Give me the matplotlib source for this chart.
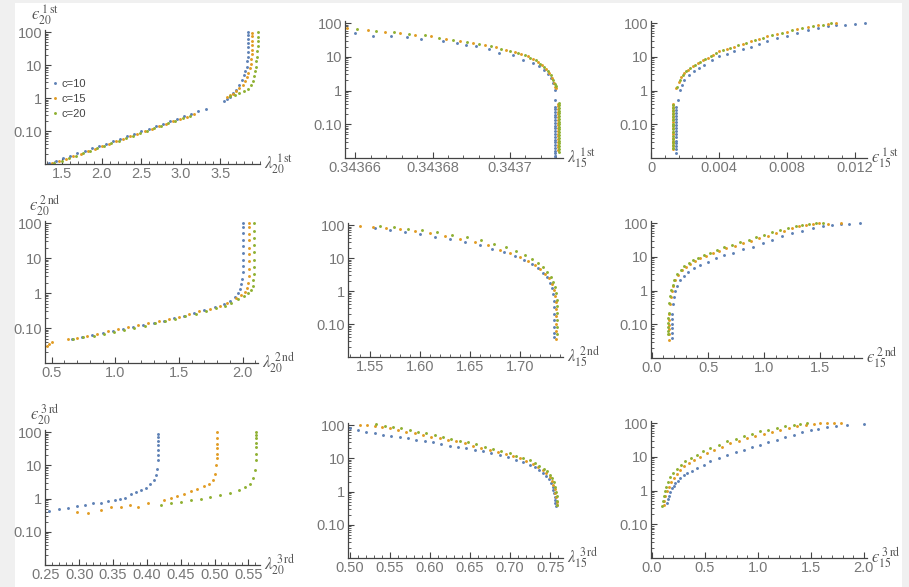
import numpy as np
import matplotlib
matplotlib.use("Agg")
import matplotlib.pyplot as plt
from matplotlib.ticker import FixedLocator, FixedFormatter, AutoMinorLocator, LogLocator, NullFormatter
from matplotlib.patches import Rectangle

plt.rcParams['mathtext.fontset'] = 'stix'
plt.rcParams['font.family'] = ['Liberation Sans', 'DejaVu Sans']

series_names = ["c=10", "c=15", "c=20"]
colors = ["#5E81B5", "#E19C24", "#8FB032"]

# ---------------- Panel A: lambda20 1st vs eps20 1st ----------------
A_c10_x = [1.33, 1.42, 1.51, 1.60, 1.69, 1.78, 1.87, 1.96, 2.05, 2.14, 2.23, 2.32, 2.41, 2.50, 2.59, 2.68, 2.77,
           2.86, 2.95, 3.04, 3.13, 3.22, 3.32, 3.54, 3.58, 3.62, 3.66, 3.70, 3.74, 3.77, 3.80, 3.81, 3.83, 3.84,
           3.845, 3.85, 3.85, 3.85, 3.852, 3.852, 3.852]
A_c10_y = [0.0105, 0.0124, 0.0148, 0.0176, 0.0209, 0.0248, 0.0295, 0.0351, 0.0417, 0.0496, 0.059, 0.070, 0.083,
           0.099, 0.118, 0.14, 0.166, 0.198, 0.235, 0.279, 0.332, 0.394, 0.48, 0.83, 0.95, 1.1, 1.4, 1.8, 2.5, 3.5,
           5.0, 6.5, 9.0, 13, 18, 25, 34, 46, 62, 82, 100]
A_c15_x = [1.37, 1.46, 1.55, 1.64, 1.73, 1.82, 1.91, 2.00, 2.09, 2.18, 2.27, 2.36, 2.45, 2.54, 2.63, 2.72, 2.81,
           2.90, 2.99, 3.08, 3.16, 3.58, 3.62, 3.66, 3.70, 3.74, 3.78, 3.81, 3.83, 3.85, 3.87, 3.88, 3.89, 3.895,
           3.90, 3.90, 3.90, 3.90, 3.90]
A_c15_y = [0.0104, 0.0123, 0.0146, 0.0174, 0.0207, 0.0246, 0.0292, 0.0347, 0.0413, 0.049, 0.058, 0.069, 0.082,
           0.098, 0.116, 0.138, 0.164, 0.195, 0.232, 0.275, 0.32, 1.07, 1.2, 1.35, 1.6, 1.95, 2.5, 3.2, 4.2, 5.8,
           8.0, 11, 15, 21, 29, 40, 55, 75, 95]
A_c20_x = [1.40, 1.49, 1.58, 1.67, 1.76, 1.85, 1.94, 2.03, 2.12, 2.21, 2.30, 2.39, 2.48, 2.57, 2.66, 2.75, 2.84,
           2.93, 3.02, 3.11, 3.62, 3.68, 3.74, 3.80, 3.85, 3.88, 3.91, 3.93, 3.94, 3.95, 3.955, 3.96, 3.965, 3.97,
           3.97, 3.97, 3.97]
A_c20_y = [0.0106, 0.0126, 0.015, 0.0178, 0.0212, 0.0252, 0.030, 0.0356, 0.0424, 0.050, 0.060, 0.071, 0.085,
           0.101, 0.12, 0.143, 0.17, 0.202, 0.24, 0.285, 1.12, 1.25, 1.4, 1.65, 1.9, 2.4, 3.2, 4.5, 6.5, 9.0, 13,
           18, 26, 37, 52, 72, 100]
A_xticks = [1.5, 2.0, 2.5, 3.0, 3.5]
A_xticklabels = ["1.5", "2.0", "2.5", "3.0", "3.5"]

# ---------------- Panel B: lambda15 1st vs eps ----------------
B_c10_x = [0.3436600, 0.3436647, 0.3436694, 0.3436733, 0.3436771, 0.3436827, 0.3436862, 0.3436887, 0.3436913,
           0.3436947, 0.3436973, 0.3437008, 0.3437033, 0.3437059, 0.3437076, 0.3437089, 0.3437098, 0.3437106,
           0.3437112, 0.3437116, 0.3437117, 0.3437117, 0.3437117, 0.3437117, 0.3437117, 0.3437117, 0.3437117,
           0.3437117, 0.3437117, 0.3437117, 0.3437117, 0.3437117, 0.3437117, 0.3437117, 0.3437117, 0.3437117,
           0.3437117, 0.3437117, 0.3437117, 0.3437117, 0.3437117]
B_c10_y = [50, 42, 42, 38, 33.5, 28.5, 25.5, 22.7, 20.3, 16.9, 12.9, 11.5, 8.1, 6.5, 5.2, 4.1, 3.1, 2.3, 1.65,
           1.05, 0.53, 0.33, 0.28, 0.23, 0.19, 0.16, 0.13, 0.11, 0.09, 0.075, 0.062, 0.051, 0.042, 0.035, 0.029,
           0.024, 0.020, 0.0165, 0.0137, 0.0113, 0.0100]
B_c15_x = [0.3436578, 0.3436634, 0.3436677, 0.3436716, 0.3436754, 0.3436797, 0.3436836, 0.3436870, 0.3436905,
           0.3436935, 0.3436965, 0.3436990, 0.3437012, 0.3437029, 0.3437046, 0.3437059, 0.3437072, 0.3437083,
           0.3437093, 0.3437102, 0.3437109, 0.3437113, 0.3437116, 0.3437120, 0.3437124, 0.3437124, 0.3437124,
           0.3437124, 0.3437124, 0.3437124, 0.3437124, 0.3437124, 0.3437124, 0.3437124, 0.3437124, 0.3437124,
           0.3437124, 0.3437124, 0.3437124, 0.3437124, 0.3437124, 0.3437124]
B_c15_y = [71, 63, 56, 50, 45, 42, 33.5, 28.5, 25.5, 21.7, 18.9, 16.1, 13.8, 12.0, 10.2, 8.5, 6.9, 5.65, 4.4,
           3.3, 2.3, 1.65, 1.3, 1.2, 0.40, 0.34, 0.28, 0.235, 0.195, 0.16, 0.135, 0.11, 0.092, 0.077, 0.064, 0.053,
           0.044, 0.036, 0.030, 0.025, 0.0205, 0.017]
B_c20_x = [0.3436606, 0.3436655, 0.3436700, 0.3436740, 0.3436780, 0.3436818, 0.3436852, 0.3436888, 0.3436920,
           0.3436950, 0.3436978, 0.3437001, 0.3437021, 0.3437038, 0.3437053, 0.3437066, 0.3437078, 0.3437088,
           0.3437098, 0.3437106, 0.3437112, 0.3437116, 0.3437120, 0.3437126, 0.3437126, 0.3437126, 0.3437126,
           0.3437126, 0.3437126, 0.3437126, 0.3437126, 0.3437126, 0.3437126, 0.3437126, 0.3437126, 0.3437126,
           0.3437126, 0.3437126, 0.3437126, 0.3437126, 0.3437126, 0.3437126]
B_c20_y = [66, 59, 53, 47.5, 43, 37, 31, 27, 23.5, 20.3, 17.5, 15.0, 12.9, 11.1, 9.5, 7.8, 6.3, 5.1, 3.9,
           2.9, 2.1, 1.55, 1.35, 0.42, 0.36, 0.30, 0.25, 0.21, 0.175, 0.145, 0.12, 0.10, 0.083, 0.07, 0.058, 0.048,
           0.04, 0.033, 0.027, 0.022, 0.0185, 0.0152]
B_xticks = [0.34366, 0.34368, 0.34370]
B_xticklabels = ["0.34366", "0.34368", "0.3437"]

# ---------------- Panel C: eps15 1st vs eps ----------------
C_c10_x = [0.00148, 0.00148, 0.00148, 0.00148, 0.00148, 0.00148, 0.00148, 0.00148, 0.00148, 0.00148, 0.00148,
           0.00148, 0.00148, 0.00148, 0.00148, 0.00148, 0.00156, 0.00166, 0.00180, 0.00195, 0.0022, 0.0025,
           0.0028, 0.00311, 0.00355, 0.0040, 0.00444, 0.00488, 0.00537, 0.00585, 0.00632, 0.0068, 0.0074, 0.0080,
           0.0086, 0.0092, 0.0098, 0.0104, 0.0109, 0.0114, 0.0120, 0.0126]
C_c10_y = [0.32, 0.26, 0.21, 0.17, 0.14, 0.115, 0.093, 0.076, 0.062, 0.05, 0.041, 0.033, 0.027, 0.022, 0.018,
           0.0145, 0.53, 1.05, 1.5, 2.1, 2.9, 3.7, 4.7, 5.8, 7.8, 10.2, 12.2, 14.4, 17, 20, 24, 28.5, 35, 42, 52, 63,
           72, 80, 85, 89, 95, 100]
C_c15_x = [0.00127, 0.00127, 0.00127, 0.00127, 0.00127, 0.00127, 0.00127, 0.00127, 0.00127, 0.00127, 0.00127,
           0.00127, 0.00127, 0.00127, 0.00127, 0.00127, 0.00146, 0.00160, 0.00176, 0.00195, 0.00215, 0.00243,
           0.00273, 0.00302, 0.00332, 0.00366, 0.0040, 0.00444, 0.00488, 0.00537, 0.00585, 0.00632, 0.0068,
           0.0074, 0.0080, 0.0086, 0.0092, 0.0098, 0.0104, 0.0109]
C_c15_y = [0.40, 0.32, 0.26, 0.21, 0.17, 0.14, 0.113, 0.092, 0.075, 0.061, 0.05, 0.04, 0.033, 0.027, 0.022, 0.018,
           1.15, 1.8, 2.6, 3.3, 4.1, 5.2, 6.5, 7.8, 9.1, 11.5, 14.4, 17, 20, 24, 28.5, 34, 40, 48, 56, 66, 76, 85,
           95, 100]
C_c20_x = [0.00130, 0.00130, 0.00130, 0.00130, 0.00130, 0.00130, 0.00130, 0.00130, 0.00130, 0.00130, 0.00130,
           0.00130, 0.00130, 0.00130, 0.00130, 0.00150, 0.00168, 0.00185, 0.00205, 0.00228, 0.00258, 0.00288,
           0.00317, 0.00349, 0.00383, 0.0042, 0.00466, 0.00512, 0.0056, 0.0061, 0.0066, 0.0071, 0.0077, 0.0083,
           0.0089, 0.0095, 0.0101, 0.0106]
C_c20_y = [0.38, 0.30, 0.245, 0.2, 0.16, 0.13, 0.105, 0.086, 0.07, 0.057, 0.046, 0.037, 0.03, 0.025, 0.02,
           1.3, 2.1, 2.9, 3.8, 4.7, 5.9, 7.1, 8.5, 10.3, 12.9, 15.7, 18.5, 22, 26, 31, 37, 44, 52, 61, 71, 80, 90, 98]
C_xticks = [0.0, 0.004, 0.008, 0.012]
C_xticklabels = ["0", "0.004", "0.008", "0.012"]

# ---------------- Panel D: lambda20 2nd ----------------
D_c10_x = [0.66, 0.74, 0.82, 0.90, 0.98, 1.06, 1.14, 1.22, 1.30, 1.38, 1.46, 1.54, 1.62, 1.70, 1.78, 1.85, 1.90,
           1.94, 1.965, 1.98, 1.99, 1.995, 2.0, 2.002, 2.003, 2.003, 2.004, 2.004, 2.004, 2.004, 2.004]
D_c10_y = [0.050, 0.056, 0.063, 0.071, 0.082, 0.094, 0.108, 0.124, 0.142, 0.164, 0.19, 0.225, 0.27, 0.325, 0.40,
           0.48, 0.58, 0.75, 1.0, 1.3, 1.8, 2.6, 4.0, 6.0, 9.0, 14, 22, 34, 52, 75, 100]
D_c15_x = [0.46, 0.48, 0.50, 0.63, 0.70, 0.78, 0.86, 0.94, 1.02, 1.10, 1.18, 1.26, 1.34, 1.42, 1.50, 1.58, 1.66,
           1.74, 1.82, 1.88, 1.95, 1.99, 2.02, 2.035, 2.042, 2.046, 2.048, 2.05, 2.05, 2.05, 2.05, 2.05, 2.05, 2.05]
D_c15_y = [0.031, 0.034, 0.039, 0.047, 0.052, 0.058, 0.066, 0.08, 0.092, 0.105, 0.12, 0.137, 0.158, 0.183, 0.21,
           0.25, 0.30, 0.36, 0.44, 0.53, 0.70, 0.88, 1.1, 1.4, 2.0, 3.0, 5.0, 8.0, 13, 20, 32, 50, 75, 100]
D_c20_x = [0.67, 0.75, 0.83, 0.91, 0.99, 1.07, 1.15, 1.23, 1.31, 1.39, 1.47, 1.55, 1.63, 1.71, 1.79, 1.86, 1.91,
           1.96, 2.01, 2.045, 2.065, 2.078, 2.084, 2.087, 2.089, 2.09, 2.09, 2.09, 2.09, 2.09, 2.09]
D_c20_y = [0.049, 0.054, 0.061, 0.069, 0.079, 0.09, 0.103, 0.118, 0.136, 0.157, 0.182, 0.214, 0.255, 0.305, 0.37,
           0.44, 0.53, 0.66, 0.82, 1.0, 1.25, 1.6, 2.3, 3.5, 5.5, 9.0, 15, 24, 38, 60, 100]
D_xticks = [0.5, 1.0, 1.5, 2.0]
D_xticklabels = ["0.5", "1.0", "1.5", "2.0"]

# ---------------- Panel E: lambda15 2nd ----------------
E_c10_x = [1.555, 1.570, 1.585, 1.600, 1.615, 1.630, 1.645, 1.660, 1.672, 1.684, 1.695, 1.704, 1.712, 1.718,
           1.723, 1.727, 1.730, 1.732, 1.733, 1.734, 1.734, 1.734, 1.734, 1.734, 1.734, 1.734]
E_c10_y = [80, 70, 60, 52, 44, 37, 30, 24, 19, 15, 11.5, 8.8, 6.6, 5.0, 3.6, 2.6, 1.8, 1.2, 0.8, 0.5, 0.32, 0.2,
           0.13, 0.08, 0.055, 0.04]
E_c15_x = [1.540, 1.553, 1.566, 1.580, 1.595, 1.610, 1.625, 1.640, 1.655, 1.668, 1.680, 1.690, 1.700, 1.708,
           1.715, 1.720, 1.725, 1.729, 1.732, 1.734, 1.735, 1.736, 1.736, 1.736, 1.736, 1.736, 1.736]
E_c15_y = [92, 90, 82, 74, 65, 56, 47, 38, 30, 24, 18, 14, 10.5, 8.0, 6.0, 4.5, 3.3, 2.4, 1.6, 1.1, 0.7, 0.45,
           0.28, 0.17, 0.10, 0.06, 0.035]
E_c20_x = [1.560, 1.574, 1.588, 1.602, 1.617, 1.632, 1.647, 1.661, 1.674, 1.686, 1.696, 1.705, 1.712, 1.718,
           1.723, 1.727, 1.731, 1.733, 1.735, 1.736, 1.737, 1.737, 1.737, 1.737, 1.737, 1.737]
E_c20_y = [95, 86, 78, 69, 60, 51, 42, 34, 27, 21, 16, 12.2, 9.2, 7.0, 5.2, 3.8, 2.7, 1.9, 1.3, 0.85, 0.55,
           0.34, 0.21, 0.13, 0.08, 0.05]
E_xticks = [1.55, 1.60, 1.65, 1.70]
E_xticklabels = ["1.55", "1.60", "1.65", "1.70"]

# ---------------- Panel F: eps15 2nd ----------------
F_c10_x = [0.176, 0.176, 0.176, 0.177, 0.178, 0.180, 0.185, 0.195, 0.206, 0.225, 0.25, 0.285, 0.32, 0.37, 0.426,
           0.50, 0.57, 0.645, 0.72, 0.81, 0.90, 0.985, 1.07, 1.16, 1.25, 1.34, 1.43, 1.52, 1.60, 1.68, 1.75, 1.85]
F_c10_y = [0.04, 0.055, 0.075, 0.1, 0.14, 0.2, 0.4, 0.65, 1.0, 1.4, 2.0, 2.7, 3.5, 4.5, 5.6, 7.2, 8.9, 11, 13,
           16.5, 20, 25.5, 32, 40, 50, 60, 71, 80, 89, 92, 95, 100]
F_c15_x = [0.147, 0.147, 0.147, 0.148, 0.150, 0.152, 0.156, 0.165, 0.176, 0.19, 0.206, 0.235, 0.265, 0.30, 0.338,
           0.38, 0.426, 0.485, 0.544, 0.60, 0.66, 0.735, 0.81, 0.885, 0.956, 1.03, 1.10, 1.175, 1.25, 1.31, 1.37,
           1.43, 1.485, 1.57, 1.68]
F_c15_y = [0.035, 0.05, 0.07, 0.095, 0.13, 0.2, 0.4, 0.65, 1.0, 1.4, 2.0, 2.9, 4.0, 5.1, 6.3, 7.5, 8.9, 10.6,
           12.6, 15, 17.8, 21, 25, 30, 35, 42, 50, 60, 71, 80, 89, 95, 100, 95, 97]
F_c20_x = [0.142, 0.142, 0.142, 0.143, 0.145, 0.148, 0.152, 0.160, 0.170, 0.184, 0.20, 0.226, 0.255, 0.288, 0.325,
           0.365, 0.41, 0.465, 0.52, 0.58, 0.64, 0.71, 0.785, 0.86, 0.93, 1.0, 1.07, 1.14, 1.21, 1.28, 1.34, 1.40,
           1.46, 1.52]
F_c20_y = [0.05, 0.065, 0.085, 0.11, 0.15, 0.22, 0.42, 0.68, 1.05, 1.5, 2.1, 3.0, 4.1, 5.3, 6.6, 7.9, 9.4, 11.2,
           13.3, 16, 19, 22.5, 27, 32, 38, 45, 53, 63, 73, 82, 90, 95, 98, 100]
F_xticks = [0.0, 0.5, 1.0, 1.5]
F_xticklabels = ["0.0", "0.5", "1.0", "1.5"]

# ---------------- Panel G: lambda20 3rd ----------------
G_c10_x = [0.2549, 0.2695, 0.2841, 0.2963, 0.3085, 0.3207, 0.3329, 0.3427, 0.3524, 0.3598, 0.3671, 0.3768,
           0.3841, 0.3915, 0.3988, 0.4051, 0.4100, 0.4134, 0.4149, 0.4159, 0.4165, 0.4168, 0.4168, 0.4168, 0.4168,
           0.4168]
G_c10_y = [0.43, 0.48, 0.53, 0.58, 0.66, 0.71, 0.74, 0.83, 0.93, 1.0, 1.07, 1.4, 1.58, 1.86, 2.1, 2.7, 3.5, 5.0,
           7.9, 14, 20, 28, 40, 55, 72, 85]
G_c15_x = [0.2963, 0.3134, 0.3329, 0.3476, 0.3622, 0.3744, 0.3866, 0.4012, 0.4256, 0.4354, 0.4451, 0.4549,
           0.4646, 0.4744, 0.4841, 0.4915, 0.4978, 0.5012, 0.5027, 0.5037, 0.5037, 0.5037, 0.5037, 0.5037, 0.5037]
G_c15_y = [0.40, 0.36, 0.45, 0.56, 0.54, 0.63, 0.54, 0.74, 0.93, 1.07, 1.2, 1.4, 1.66, 1.95, 2.35, 2.8, 3.7, 5.6,
           10, 16, 22, 32, 45, 68, 100]
G_c20_x = [0.4207, 0.4354, 0.4500, 0.4646, 0.4793, 0.4939, 0.5085, 0.5232, 0.5354, 0.5451, 0.5524, 0.5573,
           0.5598, 0.5607, 0.5612, 0.5612, 0.5612, 0.5612, 0.5612, 0.5612]
G_c20_y = [0.63, 0.71, 0.79, 0.89, 1.0, 1.12, 1.26, 1.5, 1.78, 2.2, 2.8, 4.0, 7.0, 14, 22, 35, 48, 64, 80, 100]
G_xticks = [0.25, 0.30, 0.35, 0.40, 0.45, 0.50, 0.55]
G_xticklabels = ["0.25", "0.30", "0.35", "0.40", "0.45", "0.50", "0.55"]

# ---------------- Panel H: lambda15 3rd ----------------
H_c10_x = [0.500, 0.5104, 0.5208, 0.5311, 0.5415, 0.5519, 0.5623, 0.5727, 0.5831, 0.5935, 0.6038, 0.6142,
           0.6246, 0.6350, 0.6453, 0.6557, 0.6661, 0.6765, 0.6869, 0.6972, 0.7076, 0.7160, 0.7243, 0.7305, 0.7367,
           0.7410, 0.7450, 0.7485, 0.7512, 0.7530, 0.7541, 0.7552, 0.7558, 0.7563, 0.7566, 0.7570]
H_c10_y = [79, 71, 63, 56, 50, 47, 45, 40, 35, 32, 30, 27, 24, 22, 20, 18, 16, 14, 12.6, 10.8, 9.0, 7.5, 6.3,
           5.3, 4.5, 3.7, 3.0, 2.3, 1.8, 1.4, 1.1, 0.88, 0.7, 0.55, 0.45, 0.37]
H_c15_x = [0.5125, 0.5218, 0.5311, 0.5405, 0.5498, 0.5602, 0.5706, 0.5810, 0.5914, 0.6018, 0.6121, 0.6225,
           0.6329, 0.6433, 0.6537, 0.6640, 0.6744, 0.6848, 0.6952, 0.7035, 0.7118, 0.7201, 0.7284, 0.7346, 0.7409,
           0.7450, 0.7492, 0.7520, 0.7541, 0.7556, 0.7566, 0.7574, 0.7579, 0.7583]
H_c15_y = [100, 97, 93, 86, 79, 71, 63, 56, 50, 45, 40, 36, 32, 28, 24, 21, 18, 15.5, 13, 11.5, 10, 8.3, 6.8,
           5.6, 4.5, 3.6, 2.7, 2.1, 1.6, 1.2, 0.9, 0.68, 0.5, 0.4]
H_c20_x = [0.5332, 0.5436, 0.5540, 0.5644, 0.5748, 0.5852, 0.5956, 0.6060, 0.6163, 0.6267, 0.6371, 0.6475,
           0.6579, 0.6683, 0.6786, 0.6890, 0.6994, 0.7077, 0.7160, 0.7243, 0.7305, 0.7367, 0.7420, 0.7462, 0.7500,
           0.7528, 0.7550, 0.7565, 0.7575, 0.7582, 0.7586, 0.7588]
H_c20_y = [105, 96, 88, 80, 71, 63, 56, 50, 44, 39, 34, 30, 26, 22.5, 19.5, 16.5, 14, 12, 10.2, 8.6, 7.2, 6.0,
           4.9, 4.0, 3.2, 2.5, 1.9, 1.4, 1.0, 0.72, 0.52, 0.38]
H_xticks = [0.50, 0.55, 0.60, 0.65, 0.70, 0.75]
H_xticklabels = ["0.50", "0.55", "0.60", "0.65", "0.70", "0.75"]

# ---------------- Panel I: eps15 3rd ----------------
I_c10_x = [0.142, 0.150, 0.157, 0.172, 0.189, 0.205, 0.22, 0.244, 0.268, 0.30, 0.33, 0.378, 0.425, 0.49, 0.55,
           0.63, 0.71, 0.79, 0.866, 0.94, 1.02, 1.10, 1.18, 1.26, 1.34, 1.42, 1.50, 1.57, 1.65, 1.74, 1.84, 2.0]
I_c10_y = [0.43, 0.55, 0.67, 0.9, 1.2, 1.4, 1.66, 1.95, 2.3, 2.8, 3.3, 3.9, 4.6, 5.8, 7.3, 9.2, 11.5, 13.6, 16,
           19.5, 23, 27, 32, 38, 45, 53, 61, 68, 76, 82, 89, 93]
I_c15_x = [0.11, 0.118, 0.126, 0.14, 0.157, 0.18, 0.205, 0.235, 0.268, 0.305, 0.346, 0.40, 0.457, 0.52, 0.583,
           0.66, 0.74, 0.82, 0.90, 0.975, 1.055, 1.13, 1.21, 1.29, 1.37, 1.45, 1.53, 1.59, 1.65, 1.72, 1.78]
I_c15_y = [0.38, 0.5, 0.67, 0.95, 1.3, 1.75, 2.3, 3.1, 4.1, 5.2, 6.5, 8.2, 10, 13, 16, 20, 25, 30, 36, 42, 48,
           56, 63, 71, 80, 88, 95, 97, 100, 98, 100]
I_c20_x = [0.094, 0.10, 0.11, 0.122, 0.135, 0.152, 0.173, 0.2, 0.236, 0.272, 0.315, 0.365, 0.425, 0.485, 0.55,
           0.63, 0.71, 0.79, 0.866, 0.94, 1.02, 1.10, 1.18, 1.26, 1.34, 1.40, 1.46]
I_c20_y = [0.35, 0.48, 0.67, 0.95, 1.3, 1.8, 2.5, 3.3, 4.3, 5.6, 7.3, 9.2, 11.5, 14.5, 18, 23, 29, 34, 40, 48, 57,
           64, 71, 80, 89, 95, 100]
I_xticks = [0.0, 0.5, 1.0, 1.5, 2.0]
I_xticklabels = ["0.0", "0.5", "1.0", "1.5", "2.0"]

y_ticks = [0.1, 1, 10, 100]
y_ticklabels = ["0.10", "1", "10", "100"]
y_limits = (0.01, 115)

EPS = "\u03f5"  # lunate epsilon as in the reference

def lab(sym, sub, order, suffix):
    return "$" + sym + "_{" + sub + "}^{\\;" + order + "\\,\\mathrm{" + suffix + "}}$"

# ---------------- figure ----------------
W, H = 909, 587
fig = plt.figure(figsize=(W / 100, H / 100), dpi=100)
fig.patch.set_facecolor("#f0f0f0")
fig.patches.append(Rectangle((15 / W, 0), (902 - 15) / W, 1 - 3 / H, transform=fig.transFigure,
                             facecolor="white", edgecolor="none", zorder=-10))

def box(l, t, r, b):
    return [l / W, 1 - b / H, (r - l) / W, (b - t) / H]

panels = [
    (box(45, 30, 260, 164), (1.28, 4.0), [A_c10_x, A_c15_x, A_c20_x], [A_c10_y, A_c15_y, A_c20_y],
     A_xticks, A_xticklabels, lab("\\lambda", "20", "1", "st"), lab(EPS, "20", "1", "st")),
    (box(345, 21, 563, 158), (0.3436574, 0.3437137), [B_c10_x, B_c15_x, B_c20_x], [B_c10_y, B_c15_y, B_c20_y],
     B_xticks, B_xticklabels, lab("\\lambda", "15", "1", "st"), None),
    (box(651, 21, 867, 158), (-0.00002, 0.0127), [C_c10_x, C_c15_x, C_c20_x], [C_c10_y, C_c15_y, C_c20_y],
     C_xticks, C_xticklabels, lab(EPS, "15", "1", "st"), None),
    (box(45, 221, 258, 363), (0.448, 2.12), [D_c10_x, D_c15_x, D_c20_x], [D_c10_y, D_c15_y, D_c20_y],
     D_xticks, D_xticklabels, lab("\\lambda", "20", "2", "nd"), lab(EPS, "20", "2", "nd")),
    (box(348, 223, 563, 357), (1.528, 1.743), [E_c10_x, E_c15_x, E_c20_x], [E_c10_y, E_c15_y, E_c20_y],
     E_xticks, E_xticklabels, lab("\\lambda", "15", "2", "nd"), None),
    (box(651, 221, 862, 358), (-0.009, 1.87), [F_c10_x, F_c15_x, F_c20_x], [F_c10_y, F_c15_y, F_c20_y],
     F_xticks, F_xticklabels, lab(EPS, "15", "2", "nd"), None),
    (box(45, 430, 260, 565), (0.2495, 0.567), [G_c10_x, G_c15_x, G_c20_x], [G_c10_y, G_c15_y, G_c20_y],
     G_xticks, G_xticklabels, lab("\\lambda", "20", "3", "rd"), lab(EPS, "20", "3", "rd")),
    (box(348, 423, 563, 558), (0.498, 0.766), [H_c10_x, H_c15_x, H_c20_x], [H_c10_y, H_c15_y, H_c20_y],
     H_xticks, H_xticklabels, lab("\\lambda", "15", "3", "rd"), None),
    (box(651, 421, 867, 558), (-0.009, 2.03), [I_c10_x, I_c15_x, I_c20_x], [I_c10_y, I_c15_y, I_c20_y],
     I_xticks, I_xticklabels, lab(EPS, "15", "3", "rd"), None),
]

axis_col = "#444444"
tick_col = "#777777"

for i, (rect, xlim, xs, ys, xt, xtl, xlab, ylab) in enumerate(panels):
    ax = fig.add_axes(rect)
    ax.set_facecolor("none")
    for k in range(3):
        ax.plot(xs[k], ys[k], linestyle="none", marker="o", markersize=2.1, markeredgewidth=0,
                color=colors[k], label=series_names[k], clip_on=True)
    ax.set_yscale("log")
    ax.set_ylim(*y_limits)
    ax.set_xlim(*xlim)
    ax.yaxis.set_major_locator(FixedLocator(y_ticks))
    ax.yaxis.set_major_formatter(FixedFormatter(y_ticklabels))
    ax.yaxis.set_minor_locator(LogLocator(base=10, subs=np.arange(2, 10)))
    ax.yaxis.set_minor_formatter(NullFormatter())
    ax.xaxis.set_major_locator(FixedLocator(xt))
    ax.xaxis.set_major_formatter(FixedFormatter(xtl))
    ax.xaxis.set_minor_locator(AutoMinorLocator(5))
    for s in ["top", "right"]:
        ax.spines[s].set_visible(False)
    for s in ["left", "bottom"]:
        ax.spines[s].set_color(axis_col)
        ax.spines[s].set_linewidth(0.9)
    ax.tick_params(which="both", direction="in", colors=axis_col, labelcolor=tick_col, labelsize=10.5, pad=2)
    ax.tick_params(which="major", length=4, width=0.8)
    ax.tick_params(which="minor", length=2, width=0.6)
    ax.annotate(xlab, xy=(1.0, 0.0), xycoords="axes fraction", xytext=(3, 0), textcoords="offset points",
                ha="left", va="center", fontsize=12, color="#555555")
    if ylab is not None:
        ax.annotate(ylab, xy=(0.0, 1.0), xycoords="axes fraction", xytext=(0, 2), textcoords="offset points",
                    ha="center", va="bottom", fontsize=12, color="#555555")
    if i == 0:
        leg = ax.legend(loc="upper left", bbox_to_anchor=(0.0, 0.67), frameon=False, fontsize=8,
                        handletextpad=0.1, handlelength=1.0, labelspacing=0.45, borderaxespad=0.0,
                        markerscale=1.0)
        for t in leg.get_texts():
            t.set_color("#444444")

fig.savefig("out.png", dpi=100, facecolor=fig.get_facecolor())
